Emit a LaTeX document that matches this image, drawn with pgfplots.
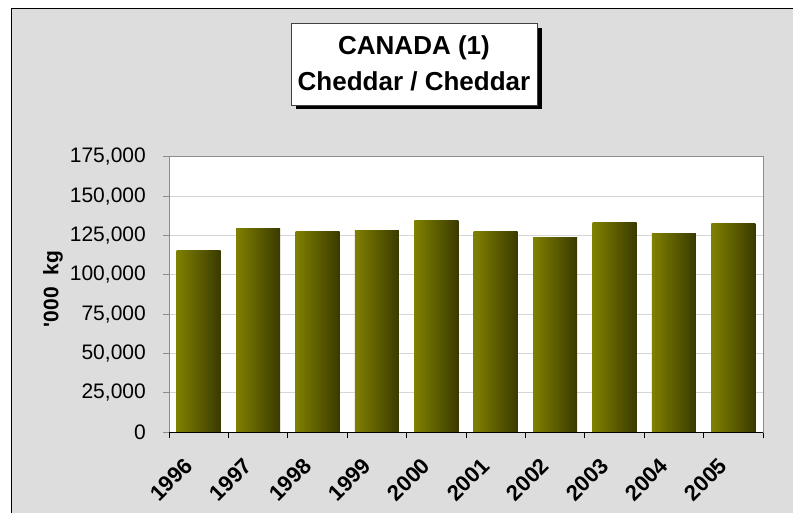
\documentclass[border=0pt]{standalone}
\usepackage{fontspec}
\setmainfont{Liberation Sans}[Ligatures=TeXOff]
\usepackage{pgfplots}
\pgfplotsset{compat=1.18}
\definecolor{olivebar}{RGB}{128,128,0}
\definecolor{midbar}{RGB}{106,106,0}
\definecolor{darkbar}{RGB}{58,58,0}
\definecolor{bgc}{RGB}{221,221,221}
\definecolor{gridc}{RGB}{214,214,214}
\definecolor{axisc}{RGB}{140,140,140}
\pgfplotsset{mybar/.style={ybar, bar width=44pt, bar shift=0pt, draw=none, left color=olivebar, middle color=midbar, right color=darkbar}}
\begin{document}
\begin{tikzpicture}[x=1pt,y=1pt]
\useasboundingbox (0,0) rectangle (793,512);
\fill[white] (0,0) rectangle (793,512);
\fill[bgc] (11,-10) rectangle (810,503);
\draw[black, line width=1pt] (11,-10) -- (11,503) -- (810,503);
% title box
\fill[black] (296,402.5) rectangle (542,484);
\draw[fill=white, draw=black!75, line width=0.8pt] (291,407) rectangle (537,489);
\node[font=\bfseries\fontsize{26}{26}\selectfont, inner sep=0pt] at (414,464) {CANADA (1)};
\node[font=\bfseries\fontsize{26}{26}\selectfont, inner sep=0pt] at (414,431) {Cheddar / Cheddar};
\begin{axis}[
  at={(169pt,80pt)}, anchor=south west, scale only axis,
  width=594pt, height=275pt,
  xmin=-0.5, xmax=9.5, ymin=0, ymax=175000,
  axis background/.style={fill=white},
  axis line style={draw=axisc, line width=1pt},
  tick align=outside, tick pos=left,
  xtick={0,1,2,3,4,5,6,7,8,9},
  xticklabels={1996,1997,1998,1999,2000,2001,2002,2003,2004,2005},
  major x tick style={draw=none},
  minor xtick={-0.5,0.5,1.5,2.5,3.5,4.5,5.5,6.5,7.5,8.5,9.5},
  minor tick length=6pt,
  minor x tick style={black, line width=1pt},
  major y tick style={axisc, line width=1pt},
  major tick length=6pt,
  xticklabel style={font=\bfseries\fontsize{22}{22}\selectfont, inner sep=0pt, xshift=-10pt, yshift=-24pt, rotate=45, anchor=east},
  ytick={0,25000,50000,75000,100000,125000,150000,175000},
  scaled y ticks=false,
  yticklabels={0,{25,000},{50,000},{75,000},{100,000},{125,000},{150,000},{175,000}},
  yticklabel style={font=\fontsize{21}{21}\selectfont, inner sep=0pt, xshift=-17pt, anchor=east},
  ymajorgrids, major grid style={gridc, line width=1pt},
]
\addplot[mybar] coordinates {(0,115800)};
\addplot[mybar] coordinates {(1,129800)};
\addplot[mybar] coordinates {(2,127900)};
\addplot[mybar] coordinates {(3,128500)};
\addplot[mybar] coordinates {(4,134900)};
\addplot[mybar] coordinates {(5,127300)};
\addplot[mybar] coordinates {(6,123500)};
\addplot[mybar] coordinates {(7,133000)};
\addplot[mybar] coordinates {(8,126600)};
\addplot[mybar] coordinates {(9,132400)};
\draw[black, line width=1pt] (rel axis cs:0,0) -- (rel axis cs:1,0);
\end{axis}
\node[rotate=90, font=\bfseries\fontsize{21}{21}\selectfont, inner sep=0pt] at (53,223) {\textquotesingle000\ \ kg};
\end{tikzpicture}
\end{document}
